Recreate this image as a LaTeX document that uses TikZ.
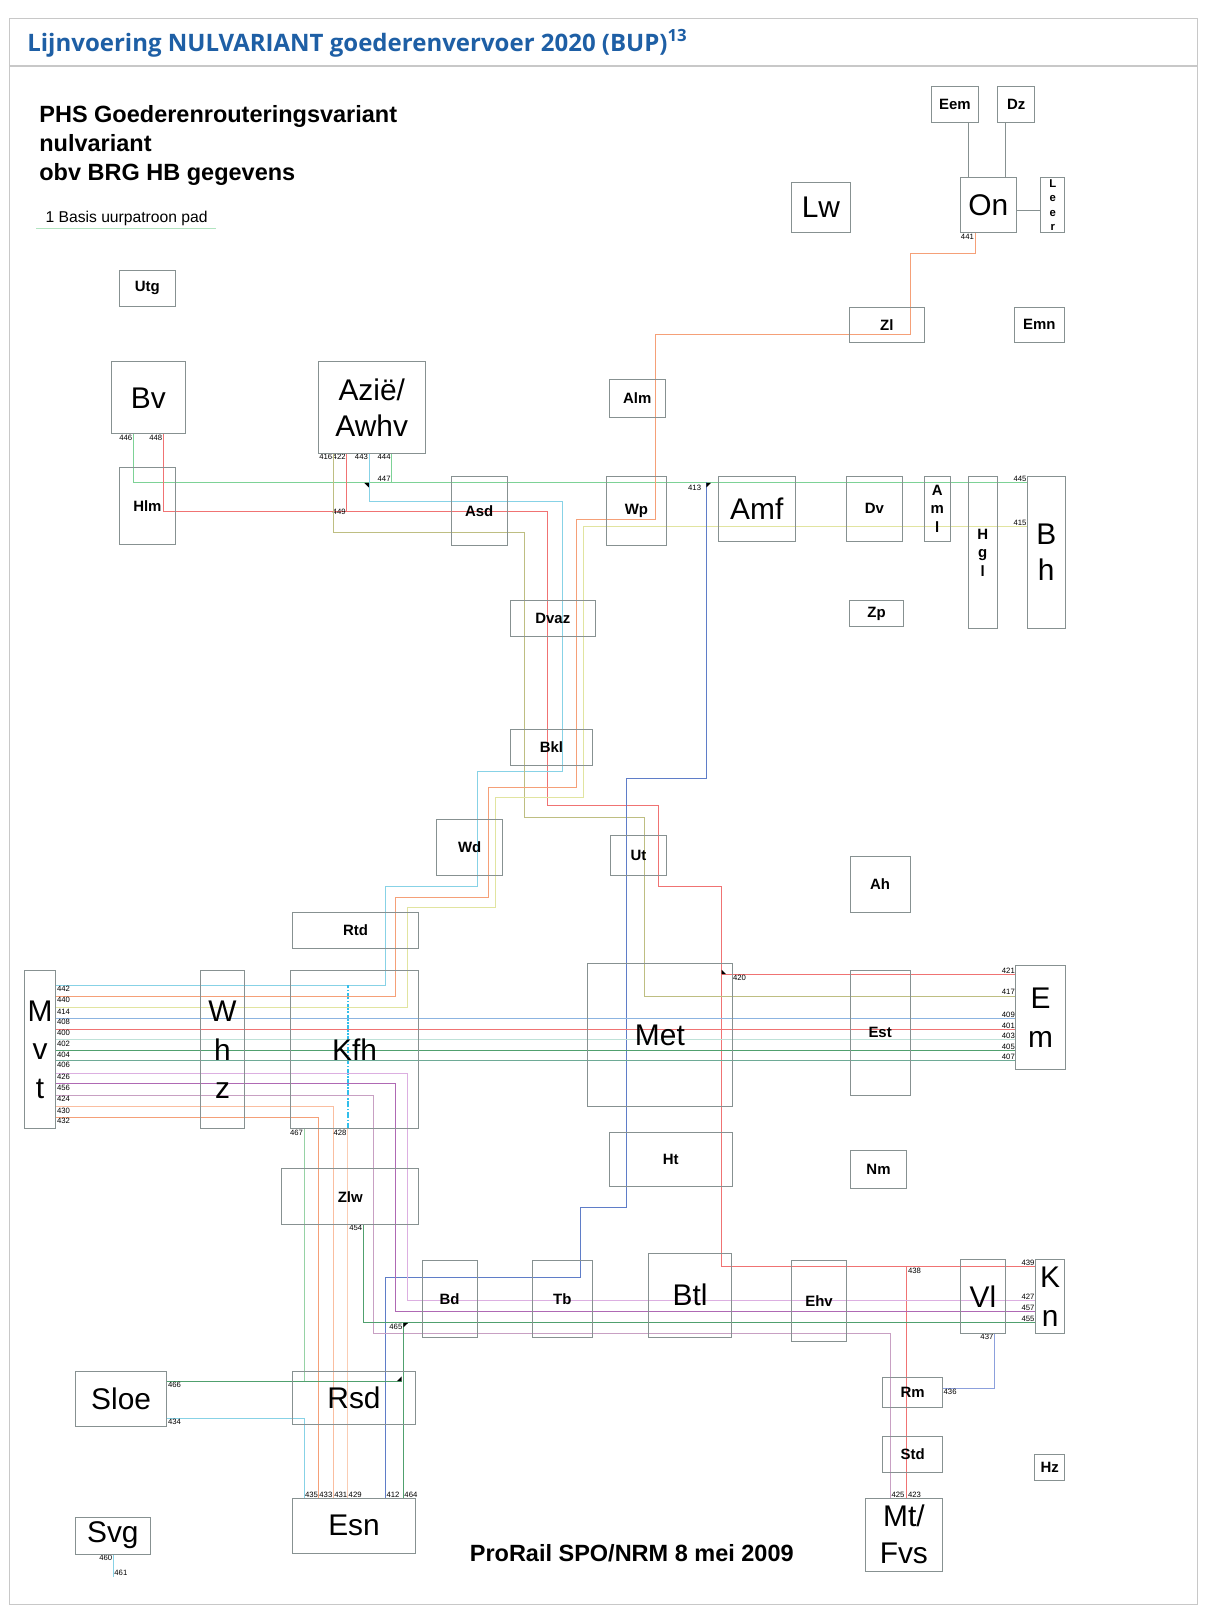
\documentclass[tikz,border=0pt]{standalone}
\usepackage{fontspec}
\setmainfont{Liberation Sans}
\newfontfamily\titelfont{Open Sans}
\usetikzlibrary{backgrounds}

\definecolor{kadergrijs}{RGB}{200,200,200}
\definecolor{boxgrijs}{RGB}{135,145,145}
\definecolor{titelblauw}{RGB}{30,95,165}
\definecolor{lgreen}{RGB}{125,210,150}
\definecolor{lred}{RGB}{240,115,115}
\definecolor{lcyan}{RGB}{135,210,230}
\definecolor{lolive}{RGB}{190,190,130}
\definecolor{lorange}{RGB}{245,160,120}
\definecolor{lyellow}{RGB}{225,228,160}
\definecolor{lblue}{RGB}{95,125,200}
\definecolor{lsky}{RGB}{140,180,225}
\definecolor{lmint}{RGB}{190,225,215}
\definecolor{ldkgreen}{RGB}{80,160,110}
\definecolor{lteal}{RGB}{110,170,150}
\definecolor{lpink}{RGB}{220,175,225}
\definecolor{lpurple}{RGB}{175,105,180}
\definecolor{lmauve}{RGB}{200,160,195}
\definecolor{lpeach}{RGB}{250,190,160}
\definecolor{lpeach2}{RGB}{250,205,180}
\definecolor{lsage}{RGB}{150,210,165}
\definecolor{lperi}{RGB}{140,160,220}
\definecolor{ldash}{RGB}{50,190,235}

\begin{document}
\begin{tikzpicture}[
    x=1pt, y=-1pt,
    halte/.style={draw=boxgrijs, line width=0.9pt, rectangle, inner sep=0pt, outer sep=0pt, align=center},
    klein/.style={halte, font=\fontsize{14.5}{18}\selectfont\bfseries},
    groot/.style={halte, font=\fontsize{29}{36}\selectfont},
    maat/.style 2 args={minimum width=#1pt, minimum height=#2pt},
    nr/.style={text=black, font=\fontsize{7.5}{8}\selectfont, inner sep=0.6pt},
    lijn/.style={line width=0.9pt},
    koppel/.style={draw=boxgrijs, line width=0.8pt}
]
\useasboundingbox (0,0) rectangle (1174,1568);

% kader en titel
\draw[kadergrijs, line width=1.5pt] (9,18) rectangle (1162,1557);
\draw[kadergrijs, line width=1.5pt] (9,64) -- (1162,64);
\node[anchor=west, text=titelblauw, font=\titelfont\bfseries\fontsize{23.3}{26}\selectfont] (titel) at (23,42) {Lijnvoering NULVARIANT goederenvervoer 2020 (BUP)\textsuperscript{13}};
\node[anchor=west, align=left, inner sep=0pt, font=\fontsize{22.8}{28}\selectfont\bfseries] (kop) at (38,141) {PHS Goederenrouteringsvariant\\nulvariant\\obv BRG HB gegevens};
\node[anchor=west, inner sep=0pt, font=\fontsize{15.2}{17}\selectfont] (legenda) at (44,212) {1 Basis uurpatroon pad};
\draw[lgreen!60, line width=0.8pt] (35,222) -- (210,222);
\node[font=\fontsize{22.8}{26}\selectfont\bfseries] (voet) at (613,1507) {ProRail SPO/NRM 8 mei 2009};

% stations
\node[klein, maat={45}{35}] (eem) at (926.5,101.5) {Eem};
\node[klein, maat={36}{35}] (dz) at (986,101.5) {Dz};
\node[groot, maat={57}{49}] (lw) at (796.5,201.5) {Lw};
\node[groot, maat={54}{54}] (on) at (959,199) {On};
\node[halte, maat={23}{54}, font=\fontsize{11}{14}\selectfont\bfseries] (leer) at (1021.5,199) {L\\e\\e\\r};
\node[klein, maat={54}{35}] (utg) at (143,279.5) {Utg};
\node[klein, maat={73}{34}] (zl) at (860.5,315) {Zl};
\node[klein, maat={49}{34}] (emn) at (1008.5,315) {Emn};
\node[klein, maat={54.5}{37}] (alm) at (618.3,386.5) {Alm};
\node[groot, maat={72}{70}] (bv) at (144,386) {Bv};
\node[groot, maat={103.4}{89}, font=\fontsize{29}{35}\selectfont] (azie) at (360.7,395.5) {Azië/\\Awhv};
\node[klein, maat={54}{74}] (hlm) at (143,491) {Hlm};
\node[klein, maat={54}{67}] (asd) at (465,495.5) {Asd};
\node[klein, maat={58}{67}] (wp) at (617.5,495.5) {Wp};
\node[groot, maat={74.7}{63}] (amf) at (734.3,493.5) {Amf};
\node[klein, maat={54}{63}] (dv) at (848.5,493.5) {Dv};
\node[klein, maat={25}{63}] (aml) at (909.3,493.5) {A\\m\\l};
\node[klein, maat={28}{148}] (hgl) at (953.5,536) {H\\g\\l};
\node[groot, maat={36.3}{148}, font=\fontsize{29}{35}\selectfont] (bh) at (1015.2,536) {B\\h};
\node[klein, maat={53}{25}] (zp) at (850.5,595.5) {Zp};
\node[klein, maat={82.4}{35}] (dvaz) at (536.4,600) {Dvaz};
\node[klein, maat={79.5}{35}] (bkl) at (535,725.1) {Bkl};
\node[klein, maat={64}{54}] (wd) at (455.7,822) {Wd};
\node[klein, maat={54.6}{38.5}] (ut) at (619.5,829.8) {Ut};
\node[klein, maat={58}{54}] (ah) at (854,858) {Ah};
\node[klein, maat={123}{34.8}] (rtd) at (345,902.6) {Rtd};
\node[groot, maat={31}{153.6}, font=\fontsize{29}{37}\selectfont] (mvt) at (38.8,1018.6) {M\\v\\t};
\node[groot, maat={42.3}{153.6}, font=\fontsize{29}{37}\selectfont] (whz) at (215.9,1018.6) {W\\h\\z};
\node[groot, maat={125}{153.6}] (kfh) at (344,1018.6) {Kfh};
\node[groot, maat={140.5}{139}] (met) at (640.3,1004.2) {Met};
\node[klein, maat={58}{121.3}] (est) at (854,1001.8) {Est};
\node[groot, maat={47.8}{100.3}, font=\fontsize{29}{38}\selectfont] (em) at (1009.6,987.4) {E\\m};
\node[klein, maat={119.3}{52.7}] (ht) at (650.9,1125) {Ht};
\node[klein, maat={54.7}{37}] (nm) at (852.4,1134.5) {Nm};
\node[klein, maat={133.2}{53.8}] (zlw) at (339.9,1161.1) {Zlw};
\node[klein, maat={53.3}{74.3}] (bd) at (436.2,1260.2) {Bd};
\node[klein, maat={57.7}{74.3}] (tb) at (545.6,1260.2) {Tb};
\node[groot, maat={81.2}{81.3}] (btl) at (669.6,1256.7) {Btl};
\node[klein, maat={53.4}{78.4}] (ehv) at (794.7,1262.2) {Ehv};
\node[groot, maat={43.6}{71}] (vl) at (953.8,1258) {Vl};
\node[groot, maat={28.5}{71}, font=\fontsize{29}{38}\selectfont] (kn) at (1019,1258) {K\\n};
\node[groot, maat={89}{53}] (sloe) at (117.5,1357.5) {Sloe};
\node[groot, maat={119.7}{51}] (rsd) at (343.5,1356.4) {Rsd};
\node[klein, maat={58.2}{29}] (rm) at (885.5,1350.9) {Rm};
\node[klein, maat={58.2}{34.5}] (std) at (885.5,1411.3) {Std};
\node[klein, maat={29}{25}] (hz) at (1018.5,1423.5) {Hz};
\node[groot, maat={73}{36}] (svg) at (109.5,1490) {Svg};
\node[groot, maat={119.7}{53.3}] (esn) at (343.5,1480.4) {Esn};
\node[groot, maat={75.3}{70.8}, font=\fontsize{29}{36}\selectfont] (mtfvs) at (877,1489.1) {Mt/\\Fvs};

\coordinate (j413) at (685.3,468);
\coordinate (j420) at (700.2,945.3);
\coordinate (j438) at (880,1229);
\coordinate (j465) at (391.4,1283.6);

\begin{scope}[on background layer]
% lijnen bovenin
\draw[koppel] (eem.south -| 940,0) -- (on.north -| 940,0);
\draw[koppel] (dz.south -| 976,0) -- (on.north -| 976,0);
\draw[koppel] (on.east |- 0,204) -- (leer.west |- 0,204);

\draw[lijn, lgreen] (bv.south -| 129.4,0) node[nr, anchor=north east] (n446) {446} |- (bh.west |- j413) node[nr, anchor=south east] (n445) {445};
\draw[lijn, lgreen] (azie.south -| 380,0) node[nr, anchor=north east] (n444) {444} -- (380,468) node[nr, anchor=south east] (n447) {447};

\draw[lijn, lred] (bv.south -| 158.5,0) node[nr, anchor=north east] (n448) {448} |- (531,496.4) |- (638.7,781.4) |- (700.2,860.3) |- (kn.west |- j438) node[nr, anchor=south east] (n439) {439};
\draw[lijn, lred] (azie.south -| 336.4,0) node[nr, anchor=north east] (n422) {422} -- (336.4,496.4) node[nr, anchor=east] (n449) {449};
\draw[lijn, lred] (j420) node[nr, anchor=north west, xshift=10pt] (n420) {420} -- (em.west |- j420) node[nr, anchor=south east] (n421) {421};
\draw[lijn, lred] (j438) node[nr, anchor=north west] (n438) {438} -- (mtfvs.north -| j438) node[nr, anchor=south west] (n423) {423};

\draw[lijn, lcyan] (azie.south -| 358,0) node[nr, anchor=north east] (n443) {443} |- (546,486.7) |- (463,748.7) |- (373.8,860.3) |- (mvt.east |- 0,956) node[nr, anchor=north west] (n442) {442};
\draw[ldash, line width=2pt, dash pattern=on 6pt off 1.5pt on 1.5pt off 1.5pt] (kfh.south -| 338,0) -- (338,956);

\draw[lijn, lolive] (azie.south -| 323.4,0) node[nr, anchor=north east] (n416) {416} |- (508.7,517) |- (625,792.7) |- (em.west |- 0,966.4) node[nr, anchor=south east] (n417) {417};

\draw[lijn, lorange] (on.south -| 946,0) node[nr, anchor=north east] (n441) {441} |- (883,246) |- (636,325) |- (559,504) |- (473.8,764) |- (383.6,870.6) |- (mvt.east |- 0,966.4) node[nr, anchor=north west] (n440) {440};

\draw[lijn, lyellow] (bh.west |- 0,511.3) node[nr, anchor=south east] (n415) {415} -| (566,773.6) -| (480.3,880.3) -| (395.2,977.7) -- (mvt.east |- 0,977.7) node[nr, anchor=north west] (n414) {414};

\draw[lijn, lblue] (j413) node[nr, anchor=north east, xshift=-4pt, yshift=-2pt] (n413) {413} |- (607.7,755.2) |- (563,1172) |- (374,1239.6) -- (esn.north -| 374,0) node[nr, anchor=south west] (n412) {412};

% Mvt - Em
\draw[lijn, lsky] (mvt.east |- 0,988) node[nr, anchor=north west] (n408) {408} -- (em.west |- 0,988) node[nr, anchor=south east] (n409) {409};
\draw[lijn, lred] (mvt.east |- 0,998.7) node[nr, anchor=north west] (n400) {400} -- (em.west |- 0,998.7) node[nr, anchor=south east] (n401) {401};
\draw[lijn, lmint] (mvt.east |- 0,1009) node[nr, anchor=north west] (n402) {402} -- (em.west |- 0,1009) node[nr, anchor=south east] (n403) {403};
\draw[lijn, ldkgreen] (mvt.east |- 0,1019.7) node[nr, anchor=north west] (n404) {404} -- (em.west |- 0,1019.7) node[nr, anchor=south east] (n405) {405};
\draw[lijn, lteal] (mvt.east |- 0,1029.4) node[nr, anchor=north west] (n406) {406} -- (em.west |- 0,1029.4) node[nr, anchor=south east] (n407) {407};

% Mvt - zuiden
\draw[lijn, lpink] (mvt.east |- 0,1041.4) node[nr, anchor=north west] (n426) {426} -| (395.2,1262.3) -- (kn.west |- 0,1262.3) node[nr, anchor=south east] (n427) {427};
\draw[lijn, lpurple] (mvt.east |- 0,1051.7) node[nr, anchor=north west] (n456) {456} -| (383.6,1272.7) -- (kn.west |- 0,1272.7) node[nr, anchor=south east] (n457) {457};
\draw[lijn, lmauve] (mvt.east |- 0,1062.7) node[nr, anchor=north west] (n424) {424} -| (362.4,1293.6) -| (mtfvs.north -| 864,0) node[nr, anchor=south west] (n425) {425};
\draw[lijn, lpeach] (mvt.east |- 0,1073.7) node[nr, anchor=north west] (n430) {430} -| (esn.north -| 323.4,0) node[nr, anchor=south west] (n431) {431};
\draw[lijn, lorange] (mvt.east |- 0,1084) node[nr, anchor=north west] (n432) {432} -| (esn.north -| 308.9,0) node[nr, anchor=south west] (n433) {433};
\draw[lijn, lpeach2] (kfh.south -| 337.3,0) node[nr, anchor=north east] (n428) {428} -- (esn.north -| 337.3,0) node[nr, anchor=south west] (n429) {429};

\draw[lijn, lsage] (kfh.south -| 295,0) node[nr, anchor=north east] (n467) {467} -- (295,1340);
\draw[lijn, ldkgreen] (sloe.east |- 0,1340) node[nr, anchor=north west] (n466) {466} -- (389.7,1340);
\draw[lijn, lcyan] (sloe.east |- 0,1376) node[nr, anchor=north west] (n434) {434} -| (esn.north -| 295,0) node[nr, anchor=south west] (n435) {435};

\draw[lijn, ldkgreen] (zlw.south -| 352.5,0) node[nr, anchor=north east] (n454) {454} |- (kn.west |- j465) node[nr, anchor=south east] (n455) {455};
\draw[lijn, ldkgreen] (j465) node[nr, anchor=north east] (n465) {465} -- (esn.north -| j465) node[nr, anchor=south west] (n464) {464};

\draw[lijn, lperi] (vl.south -| 964.9,0) node[nr, anchor=north east] (n437) {437} |- (rm.east |- 0,1347) node[nr, anchor=north west] (n436) {436};

\draw[lijn, lcyan] (svg.south -| 110,0) node[nr, anchor=north east] (n460) {460} -- (110,1530) node[nr, anchor=south west] (n461) {461};
\end{scope}

% splitsingen
\fill (353.5,468.5) -- (358,468.5) -- (358,473) -- cycle;
\fill (685.3,468.5) -- (689.8,468.5) -- (685.3,473) -- cycle;
\fill (700.2,941) -- (700.2,945.3) -- (704.5,945.3) -- cycle;
\fill (391.4,1283.6) -- (396,1283.6) -- (391.4,1288) -- cycle;
\fill (389.7,1335.5) -- (389.7,1340) -- (385.2,1340) -- cycle;
\end{tikzpicture}
\end{document}
